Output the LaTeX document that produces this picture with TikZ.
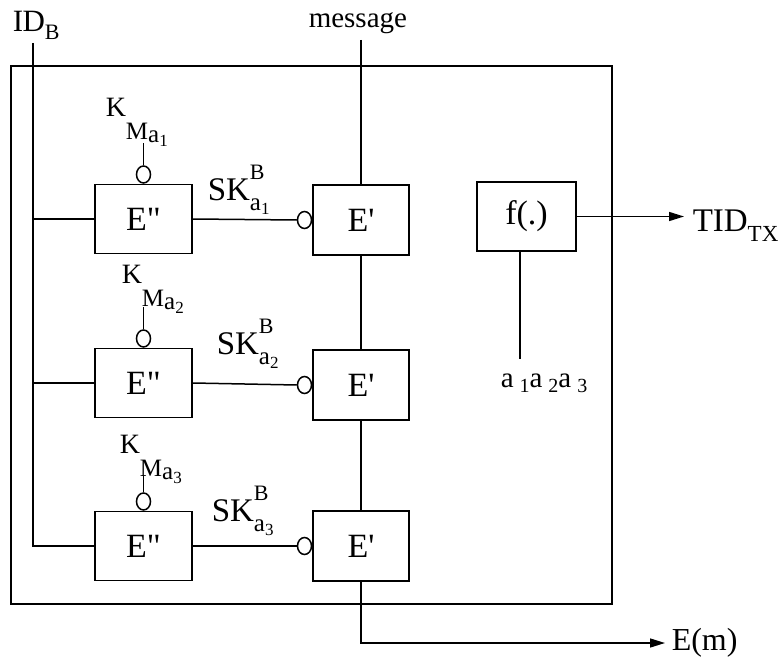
\documentclass[tikz,border=0pt]{standalone}
\usepackage{fontspec}
\setmainfont{Liberation Serif}
\usetikzlibrary{shapes.geometric,arrows.meta}
\newcommand{\fs}[1]{\fontsize{#1}{#1}\selectfont}
\newcommand{\klab}[1]{{\fs{28}K}\raisebox{-23pt}{\fs{25}M\raisebox{-3pt}{a\raisebox{-4pt}{\fs{17}#1}}}}
\newcommand{\sklab}[1]{{\fs{33}SK}\rlap{\raisebox{21pt}{\fs{22}B}}\raisebox{-10pt}{\fs{25}a\raisebox{-4pt}{\fs{17}#1}}}
\begin{document}
\begin{tikzpicture}[x=1pt,y=-1pt,line width=1.5pt,
  box/.style={draw,minimum width=97pt,minimum height=69pt,inner sep=0pt,font=\fs{34}},
  pbox/.style={box,minimum width=96pt,minimum height=70pt},
  ring/.style={draw,ellipse,minimum width=14pt,minimum height=17pt,inner sep=0pt},
  lbl/.style={anchor=base west,inner sep=0pt},
  arr/.style={-{Triangle[length=15pt,width=9pt]}}]
\useasboundingbox (0,0) rectangle (782,661);
% outer frame
\node[draw,minimum width=601pt,minimum height=538pt,inner sep=0pt] (outer) at (311.5,335) {};
% E'' boxes
\node[box] (e1) at (143.5,219) {E\textquotedbl};
\node[box] (e2) at (143.5,383) {E\textquotedbl};
\node[box] (e3) at (143.5,546) {E\textquotedbl};
% E' boxes
\node[pbox] (p1) at (361,220) {E\textquotesingle};
\node[pbox] (p2) at (361,385) {E\textquotesingle};
\node[pbox] (p3) at (361,546) {E\textquotesingle};
% f box
\node[box,minimum width=99pt] (f) at (526.5,216.5) {f(.)};
% key circles
\node[ring,anchor=south] (c1) at (e1.north) {};
\node[ring,anchor=south] (c2) at (e2.north) {};
\node[ring,anchor=south] (c3) at (e3.north) {};
\node[ring,anchor=east] (s1) at (p1.west) {};
\node[ring,anchor=east] (s2) at (p2.west) {};
\node[ring,anchor=east] (s3) at (p3.west) {};
% labels
\node[lbl] (id) at (12,32) {\fs{31}I\kern-0.5pt D\raisebox{-8pt}{\fs{22}B}};
\node[lbl] (msg) at (308,28) {\fs{29}message};
\node[lbl] (k1) at (105,116) {\klab{1}};
\node[lbl] (k2) at (121,283) {\klab{2}};
\node[lbl] (k3) at (119,453) {\klab{3}};
\node[lbl] (sk1) at (207,200) {\sklab{1}};
\node[lbl] (sk2) at (216,354) {\sklab{2}};
\node[lbl] (sk3) at (211,521) {\sklab{3}};
\node[lbl] (tid) at (692,231) {\fs{33}TID\raisebox{-10pt}{\fs{23}TX}};
\node[anchor=west,inner sep=0pt] (em) at (671,643) {\fs{32}E(m)};
\node[lbl] (aa) at (500,387) {\fs{29}a\hspace{6pt}\raisebox{-5pt}{\fs{20}1}a\hspace{6pt}\raisebox{-5pt}{\fs{20}2}a\hspace{6pt}\raisebox{-5pt}{\fs{20}3}};
% free ends
\coordinate (idt) at (33,43);
\coordinate (mt) at (361,40);
\coordinate (q1) at (143.5,143);
\coordinate (q2) at (143.5,307);
\coordinate (q3) at (143.5,475);
\coordinate (ae) at (520,359);
% connectors
\draw (idt) |- (e3.west);
\draw (idt |- e1.west) -- (e1.west);
\draw (idt |- e2.west) -- (e2.west);
\draw (mt) -- (p1.north);
\draw (p1.south) -- (p2.north);
\draw (p2.south) -- (p3.north);
\draw (e1.east) -- (s1.west);
\draw (e2.east) -- (s2.west);
\draw (e3.east) -- (s3.west);
\draw (q1) -- (c1.north);
\draw (q2) -- (c2.north);
\draw (q3) -- (c3.north);
\draw (ae |- f.south) -- (ae);
\draw[arr,shorten >=8pt] (f.east) -- (f.east -| tid.west);
\draw[arr,shorten >=6pt] (p3.south) |- (em.west);
\end{tikzpicture}
\end{document}
